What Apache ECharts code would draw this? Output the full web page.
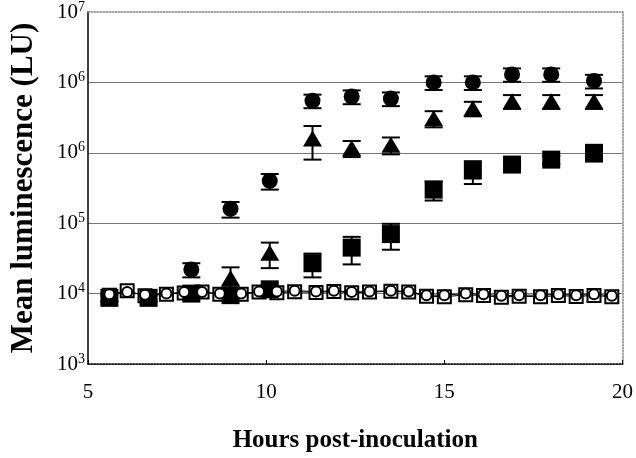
<!DOCTYPE html>
<html>
<head>
    <meta charset="UTF-8"/>
    <title>Mean luminescence</title>
    <script src="https://cdn.jsdelivr.net/npm/echarts@6/dist/echarts.min.js"></script>
</head>
<body style="margin:0">
<div id="main" style="width: 636px;height:458px;"></div>
<script>
    // sampling times of the three rising strains
    var hours = [5.6, 6.7, 7.9, 9.0, 10.1, 11.3, 12.4, 13.5, 14.7, 15.8, 16.9, 18.0, 19.2];
    var circleMean = [null, null, 2.2e4, 1.6e5, 4.0e5, 5.5e6, 6.3e6, 5.9e6, 1.0e7, 1.0e7, 1.3e7, 1.3e7, 1.05e7];
    var circleSd   = [0, 0, 5e3, 4e4, 1e5, 1.2e6, 1.4e6, 1.3e6, 2.2e6, 2.2e6, 2.8e6, 2.8e6, 2.3e6];
    var triangleMean = [null, null, null, 1.66e4, 3.8e4, 1.6e6, 1.17e6, 1.3e6, 3.1e6, 4.3e6, 5.4e6, 5.4e6, 5.4e6];
    var triangleSd   = [0, 0, 0, 7e3, 1.5e4, 8e5, 3e5, 3.5e5, 8e5, 1.0e6, 1.2e6, 1.2e6, 1.2e6];
    var squareMean = [8.7e3, 8.7e3, 1.0e4, 9.5e3, 1.15e4, 2.7e4, 4.5e4, 7.0e4, 3.0e5, 5.6e5, 6.8e5, 8.0e5, 1.0e6];
    var squareSd   = [1e3, 1e3, 1e3, 1e3, 1.5e3, 1e4, 1.9e4, 2.8e4, 9e4, 2.0e5, 1e5, 1e5, 2.5e5];

    // control strains, sampled more often
    var ctrlHours = [5.6, 6.1, 6.6, 7.2, 7.7, 8.2, 8.7, 9.3, 9.8, 10.3, 10.8, 11.4, 11.9, 12.4,
                     12.9, 13.5, 14.0, 14.5, 15.0, 15.6, 16.1, 16.6, 17.1, 17.7, 18.2, 18.7, 19.2, 19.7];
    var openCircle = [9.8e3, 1.05e4, 9.6e3, 1.0e4, 1.05e4, 1.05e4, 1.0e4, 1.0e4, 1.07e4, 1.07e4, 1.1e4, 1.07e4, 1.1e4, 1.05e4,
                      1.07e4, 1.1e4, 1.07e4, 9.5e3, 9.5e3, 1.0e4, 9.8e3, 9.3e3, 9.5e3, 9.5e3, 9.8e3, 9.5e3, 9.8e3, 9.3e3];
    var openSquare = [9.5e3, 1.1e4, 9.3e3, 9.8e3, 1.02e4, 1.05e4, 9.8e3, 9.8e3, 1.05e4, 1.03e4, 1.06e4, 1.04e4, 1.07e4, 1.03e4,
                      1.05e4, 1.08e4, 1.05e4, 9.2e3, 9.0e3, 9.6e3, 9.4e3, 8.9e3, 9.2e3, 9.0e3, 9.4e3, 9.1e3, 9.4e3, 9.0e3];

    var yTickExp = ['3', '4', '5', '6', '6', '7'];

    function pairs(xs, ys) {
        var out = [];
        for (var i = 0; i < xs.length; i++) {
            if (ys[i] != null) out.push([xs[i], ys[i]]);
        }
        return out;
    }
    function bars(xs, ys, sd) {
        var out = [];
        for (var i = 0; i < xs.length; i++) {
            if (ys[i] != null && sd[i] > 0) out.push([xs[i], ys[i] - sd[i], ys[i] + sd[i]]);
        }
        return out;
    }
    function errorSeries(data) {
        return {
            type: 'custom',
            data: data,
            encode: {x: 0, y: [1, 2]},
            z: 3,
            renderItem: function (params, api) {
                var lo = api.coord([api.value(0), api.value(1)]);
                var hi = api.coord([api.value(0), api.value(2)]);
                var w = 9;
                var st = {stroke: '#000', lineWidth: 2};
                return {
                    type: 'group',
                    children: [
                        {type: 'line', shape: {x1: lo[0], y1: lo[1], x2: hi[0], y2: hi[1]}, style: st},
                        {type: 'line', shape: {x1: lo[0] - w, y1: lo[1], x2: lo[0] + w, y2: lo[1]}, style: st},
                        {type: 'line', shape: {x1: hi[0] - w, y1: hi[1], x2: hi[0] + w, y2: hi[1]}, style: st}
                    ]
                };
            }
        };
    }

    var font = 'Liberation Serif';
    var myChart = echarts.init(document.getElementById('main'));

    option = {
        animation: false,
        backgroundColor: '#fff',
        grid: {left: 77, right: 12, top: 12, bottom: 89},
        xAxis: [{
            type: 'value',
            min: 5, max: 20, interval: 5,
            name: 'Hours post-inoculation',
            nameLocation: 'middle',
            nameGap: 64,
            nameTextStyle: {fontFamily: font, fontWeight: 'bold', fontSize: 25, color: '#000'},
            axisLine: {lineStyle: {color: '#000', type: 'dotted', width: 1.5}},
            axisTick: {inside: true, length: 4, lineStyle: {color: '#000'}},
            axisLabel: {fontFamily: font, fontSize: 21, color: '#000', margin: 18},
            splitLine: {show: false}
        }, {
            type: 'value', position: 'top',
            min: 5, max: 20, interval: 5,
            axisLine: {lineStyle: {color: '#888', type: 'dotted', width: 1.5}},
            axisTick: {show: false}, axisLabel: {show: false}, splitLine: {show: false}
        }],
        yAxis: [{
            type: 'log', logBase: 10,
            min: 1e3, max: 1e8,
            name: 'Mean luminescence (LU)',
            nameLocation: 'middle',
            nameGap: 49,
            nameTextStyle: {fontFamily: font, fontWeight: 'bold', fontSize: 31, color: '#000'},
            axisLine: {show: true, lineStyle: {color: '#000', width: 1.5}},
            axisTick: {show: false},
            axisLabel: {
                margin: 3,
                formatter: function (v) {
                    var i = Math.round(Math.log10(v)) - 3;
                    return '{b|10}{s|' + yTickExp[i] + '}';
                },
                rich: {
                    b: {fontFamily: font, fontSize: 21, color: '#000', lineHeight: 24},
                    s: {fontFamily: font, fontSize: 14, color: '#000', lineHeight: 14, verticalAlign: 'top'}
                }
            },
            splitLine: {show: true, showMinLine: false, showMaxLine: false, lineStyle: {color: '#777', width: 1.2}}
        }, {
            type: 'log', logBase: 10, position: 'right',
            min: 1e3, max: 1e8,
            axisLine: {show: true, lineStyle: {color: '#888', type: 'dotted', width: 1.5}},
            axisTick: {show: false}, axisLabel: {show: false}, splitLine: {show: false}
        }],
        series: [
            errorSeries(bars(hours, circleMean, circleSd)),
            errorSeries(bars(hours, triangleMean, triangleSd)),
            errorSeries(bars(hours, squareMean, squareSd)),
            {
                type: 'line', data: pairs(ctrlHours, openSquare), z: 4,
                symbol: 'rect', symbolSize: 13,
                lineStyle: {color: '#000', width: 1},
                itemStyle: {color: '#fff', borderColor: '#000', borderWidth: 2}
            },
            {
                type: 'scatter', data: pairs(hours, squareMean), z: 5,
                symbol: 'rect', symbolSize: 18,
                itemStyle: {color: '#000', opacity: 1}
            },
            {
                type: 'scatter', data: pairs(hours, triangleMean), z: 5,
                symbol: 'triangle', symbolSize: [19, 16],
                itemStyle: {color: '#000', opacity: 1}
            },
            {
                type: 'scatter', data: pairs(hours, circleMean), z: 5,
                symbol: 'circle', symbolSize: 16,
                itemStyle: {color: '#000', opacity: 1}
            },
            {
                type: 'line', data: pairs(ctrlHours, openCircle), z: 6,
                symbol: 'circle', symbolSize: 10,
                lineStyle: {color: '#000', width: 1},
                itemStyle: {color: '#fff', borderColor: '#000', borderWidth: 2}
            }
        ]
    };

    myChart.setOption(option);
</script>
</body>
</html>
